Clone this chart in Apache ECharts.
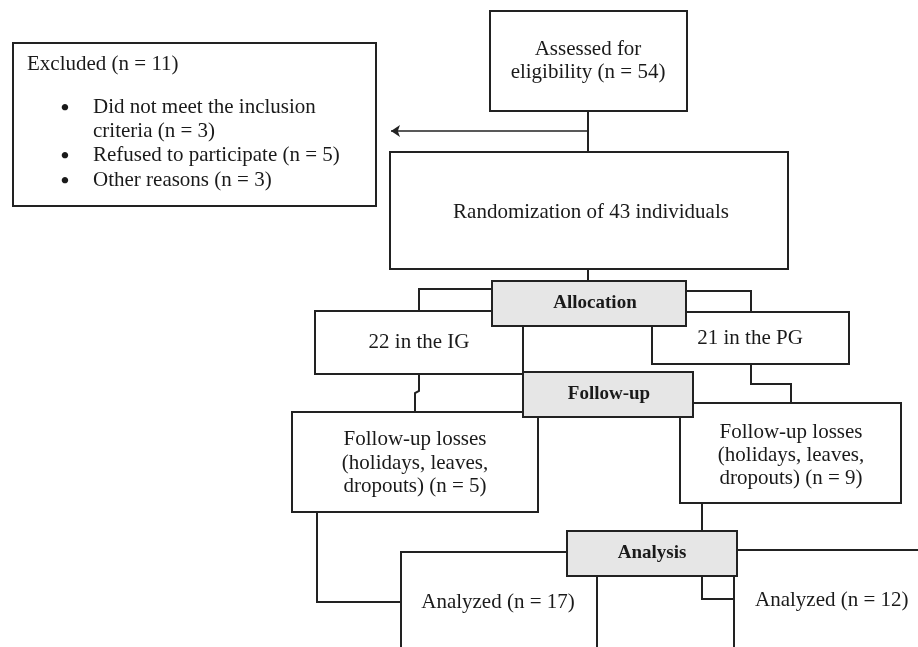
<!DOCTYPE html>
<html><head><meta charset="utf-8">
<script src="https://cdn.jsdelivr.net/npm/echarts@6/dist/echarts.min.js"></script>
<style>html,body{margin:0;padding:0;background:#fff}#c{width:918px;height:647px}</style>
</head><body><div id="c"></div>
<script>
// ---------------- data (counts) ----------------
const assessedCount = [54];
const excludedCount = [11];
const exclusionReasons = ['Did not meet the inclusion criteria', 'Refused to participate', 'Other reasons'];
const exclusionCounts = [3, 5, 3];
const randomizedCount = [43];
const groupNames = ['IG', 'PG'];
const allocatedCounts = [22, 21];
const lossReason = 'holidays, leaves, dropouts';
const lossCounts = [5, 9];
const analyzedCounts = [17, 12];
const stageNames = ['Allocation', 'Follow-up', 'Analysis'];

// ---------------- layout (diagram units on hidden axes) ----------------
const W = 918, H = 647;
const INK = '#222222', TXT = '#1a1a1a', STAGE_FILL = '#e6e6e6';
const REG = "21px 'Liberation Serif', 'Times New Roman', serif";
const BOLD = "bold 19px 'Liberation Serif', 'Times New Roman', serif";
const BULLET = "bold 24px 'Liberation Serif', 'Times New Roman', serif";

// [x0, y0, x1, y1, textX, textY], text, align, font, fill, lineHeight  (drawn in this order)
const boxes = [
  { r: [13, 43, 376, 206, 27, 64], text: 'Excluded (n = ' + excludedCount[0] + ')', align: 'left', font: REG, fill: '#fff', lh: 24 },
  { r: [490, 11, 687, 111, 588, 61], text: 'Assessed for\neligibility (n = ' + assessedCount[0] + ')', align: 'center', font: REG, fill: '#fff', lh: 23 },
  { r: [390, 152, 788, 269, 591, 212], text: 'Randomization of ' + randomizedCount[0] + ' individuals', align: 'center', font: REG, fill: '#fff', lh: 24 },
  { r: [315, 311, 523, 374, 419, 342], text: allocatedCounts[0] + ' in the ' + groupNames[0], align: 'center', font: REG, fill: '#fff', lh: 24 },
  { r: [652, 312, 849, 364, 750, 338], text: allocatedCounts[1] + ' in the ' + groupNames[1], align: 'center', font: REG, fill: '#fff', lh: 24 },
  { r: [492, 281, 686, 326, 595, 303], text: stageNames[0], align: 'center', font: BOLD, fill: STAGE_FILL, lh: 22 },
  { r: [292, 412, 538, 512, 415, 463], text: 'Follow-up losses\n(' + lossReason.replace('leaves, ', 'leaves,\n') + ') (n = ' + lossCounts[0] + ')', align: 'center', font: REG, fill: '#fff', lh: 23.5 },
  { r: [680, 403, 901, 503, 791, 455], text: 'Follow-up losses\n(' + lossReason.replace('leaves, ', 'leaves,\n') + ') (n = ' + lossCounts[1] + ')', align: 'center', font: REG, fill: '#fff', lh: 23 },
  { r: [523, 372, 693, 417, 609, 394], text: stageNames[1], align: 'center', font: BOLD, fill: STAGE_FILL, lh: 22 },
  { r: [401, 552, 597, 720, 498, 602], text: 'Analyzed (n = ' + analyzedCounts[0] + ')', align: 'center', font: REG, fill: '#fff', lh: 24 },
  { r: [734, 550, 980, 720, 755, 600], text: 'Analyzed (n = ' + analyzedCounts[1] + ')', align: 'left', font: REG, fill: '#fff', lh: 24 },
  { r: [567, 531, 737, 576, 652, 553], text: stageNames[2], align: 'center', font: BOLD, fill: STAGE_FILL, lh: 22 }
];

// bullet list inside the "Excluded" box: [bulletX, textX, firstLineCenterY]
const bulletPos = [[65, 93, 107], [65, 93, 155], [65, 93, 180]];
const bulletWrapWidth = 255;
const bulletDy = 2;

// connectors (orthogonal polylines)
const connectors = [
  [[588, 111], [588, 152]],
  [[588, 269], [588, 281]],
  [[492, 289], [419, 289], [419, 311]],
  [[686, 291], [751, 291], [751, 312]],
  [[419, 374], [419, 391], [415, 393], [415, 412]],
  [[751, 364], [751, 384], [791, 384], [791, 403]],
  [[317, 512], [317, 602], [401, 602]],
  [[702, 503], [702, 531]],
  [[702, 576], [702, 599], [734, 599]]
];
const arrowLine = [[588, 131], [391, 131]];

// ---------------- chart ----------------
const chart = echarts.init(document.getElementById('c'), null, { renderer: 'canvas' });

function renderBox(params, api) {
  const b = boxes[params.dataIndex];
  const p0 = api.coord([api.value(0), api.value(1)]);
  const p1 = api.coord([api.value(2), api.value(3)]);
  const t = api.coord([api.value(4), api.value(5)]);
  return {
    type: 'group',
    children: [
      { type: 'rect', shape: { x: p0[0], y: p0[1], width: p1[0] - p0[0], height: p1[1] - p0[1] },
        style: { fill: b.fill, stroke: INK, lineWidth: 2 } },
      { type: 'text', style: { text: b.text, x: t[0], y: t[1], textAlign: b.align, textVerticalAlign: 'middle',
        font: b.font, fill: TXT, lineHeight: b.lh } }
    ]
  };
}

function renderBullet(params, api) {
  const i = params.dataIndex;
  const pb = api.coord([api.value(0), api.value(2)]);
  const pt = api.coord([api.value(1), api.value(2)]);
  const lh = 24.5;
  return {
    type: 'group',
    children: [
      { type: 'text', style: { text: '\u2022', x: pb[0], y: pb[1] + bulletDy, textAlign: 'center', textVerticalAlign: 'middle', font: BULLET, fill: TXT } },
      { type: 'text', style: { text: exclusionReasons[i] + ' (n = ' + exclusionCounts[i] + ')', x: pt[0], y: pt[1] - lh / 2,
        textAlign: 'left', textVerticalAlign: 'top', font: REG, fill: TXT, lineHeight: lh,
        width: bulletWrapWidth, overflow: 'break' } }
    ]
  };
}

chart.setOption({
  animation: false,
  backgroundColor: '#ffffff',
  grid: { left: 0, right: 0, top: 0, bottom: 0 },
  xAxis: { type: 'value', min: 0, max: W, show: false },
  yAxis: { type: 'value', min: 0, max: H, inverse: true, show: false },
  series: [
    {
      type: 'lines', coordinateSystem: 'cartesian2d', polyline: true, silent: true, z: 1,
      lineStyle: { color: INK, width: 2, opacity: 1 },
      data: connectors.map(c => ({ coords: c }))
    },
    {
      type: 'lines', coordinateSystem: 'cartesian2d', polyline: false, silent: true, z: 1,
      symbol: ['none', 'arrow'], symbolSize: 9,
      lineStyle: { color: INK, width: 1.5, opacity: 1 },
      data: [{ coords: arrowLine }]
    },
    {
      type: 'custom', coordinateSystem: 'cartesian2d', silent: true, z: 2,
      renderItem: renderBox,
      encode: { x: [0, 2, 4], y: [1, 3, 5] },
      data: boxes.map(b => b.r)
    },
    {
      type: 'custom', coordinateSystem: 'cartesian2d', silent: true, z: 3,
      renderItem: renderBullet,
      encode: { x: [0, 1], y: [2] },
      data: bulletPos
    }
  ]
});
</script>
</body></html>
